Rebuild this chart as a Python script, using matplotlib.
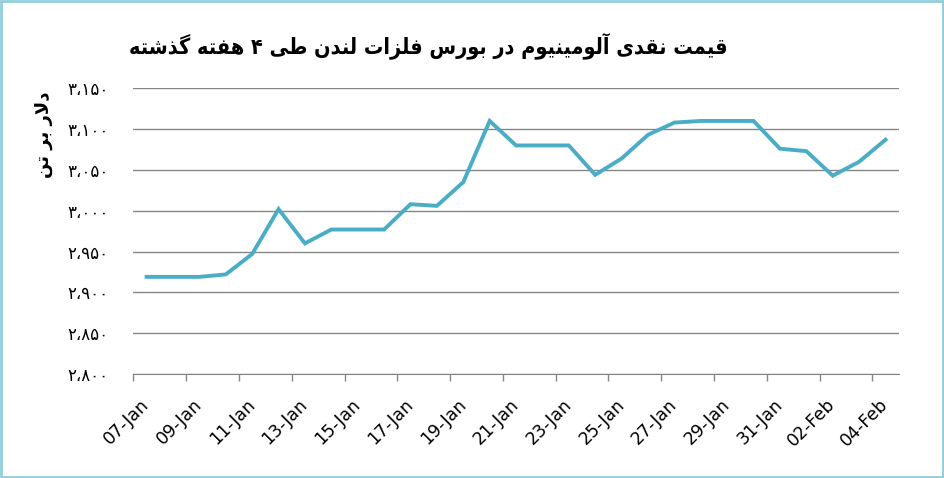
import matplotlib
matplotlib.use("Agg")
import matplotlib.pyplot as plt
from matplotlib.patches import Rectangle
from matplotlib.ticker import FixedLocator

# ---- data ----
dates = [f"{d:02d}-Jan" for d in range(7, 32)] + [f"{d:02d}-Feb" for d in range(1, 5)]
prices = [2919, 2919, 2919, 2922, 2947, 3002, 2960, 2977, 2977, 2977,
          3008, 3006, 3035, 3110, 3080, 3080, 3080, 3044, 3064, 3093,
          3108, 3110, 3110, 3110, 3076, 3073, 3043, 3060, 3087]
y_ticks = [2800, 2850, 2900, 2950, 3000, 3050, 3100, 3150]

title_fa = "قیمت نقدی آلومینیوم در بورس فلزات لندن طی ۴ هفته گذشته"
ylabel_fa = "دلار بر تن"

line_color = "#4BACC6"
grid_color = "#868686"
frame_color = "#92CDDC"

# ---- minimal arabic/persian shaping (matplotlib has no shaper) ----
# letter: (isolated, final, initial, medial)
FORMS = {
    "ا": ("\uFE8D", "\uFE8E", None, None),
    "آ": ("\uFE81", "\uFE82", None, None),
    "ب": ("\uFE8F", "\uFE90", "\uFE91", "\uFE92"),
    "ت": ("\uFE95", "\uFE96", "\uFE97", "\uFE98"),
    "د": ("\uFEA9", "\uFEAA", None, None),
    "ذ": ("\uFEAB", "\uFEAC", None, None),
    "ر": ("\uFEAD", "\uFEAE", None, None),
    "ز": ("\uFEAF", "\uFEB0", None, None),
    "س": ("\uFEB1", "\uFEB2", "\uFEB3", "\uFEB4"),
    "ش": ("\uFEB5", "\uFEB6", "\uFEB7", "\uFEB8"),
    "ط": ("\uFEC1", "\uFEC2", "\uFEC3", "\uFEC4"),
    "ف": ("\uFED1", "\uFED2", "\uFED3", "\uFED4"),
    "ق": ("\uFED5", "\uFED6", "\uFED7", "\uFED8"),
    "ل": ("\uFEDD", "\uFEDE", "\uFEDF", "\uFEE0"),
    "م": ("\uFEE1", "\uFEE2", "\uFEE3", "\uFEE4"),
    "ن": ("\uFEE5", "\uFEE6", "\uFEE7", "\uFEE8"),
    "ه": ("\uFEE9", "\uFEEA", "\uFEEB", "\uFEEC"),
    "و": ("\uFEED", "\uFEEE", None, None),
    "ی": ("\uFBFC", "\uFBFD", "\uFBFE", "\uFBFF"),
    "گ": ("\uFB92", "\uFB93", "\uFB94", "\uFB95"),
}
LAM_ALEF = {"ا": ("\uFEFB", "\uFEFC"), "آ": ("\uFEF5", "\uFEF6")}


def shape(text):
    out = []
    i = 0
    n = len(text)
    while i < n:
        c = text[i]
        if c not in FORMS:
            out.append(c)
            i += 1
            continue
        prev = text[i - 1] if i > 0 else ""
        joined = prev in FORMS and FORMS[prev][2] is not None
        if c == "ل" and i + 1 < n and text[i + 1] in LAM_ALEF:
            out.append(LAM_ALEF[text[i + 1]][1 if joined else 0])
            i += 2
            continue
        nxt = text[i + 1] if i + 1 < n else ""
        joins_next = FORMS[c][2] is not None and nxt in FORMS
        iso, fin, ini, med = FORMS[c]
        if joined and joins_next:
            out.append(med)
        elif joined:
            out.append(fin)
        elif joins_next:
            out.append(ini)
        else:
            out.append(iso)
        i += 1
    return "".join(reversed(out))


def fa_num(v):
    s = f"{v:,}"
    return s.translate(str.maketrans("0123456789,", "۰۱۲۳۴۵۶۷۸۹،"))


# ---- figure ----
fig = plt.figure(figsize=(9.45, 4.78), dpi=100)
ax = fig.add_axes([133.4 / 945, 1 - 374 / 478, (898.7 - 133.4) / 945, (374 - 88.3) / 478])

x = list(range(len(dates)))
ax.plot(x, prices, color=line_color, lw=2.8, solid_joinstyle="miter", zorder=3)

ax.set_xlim(-0.5, len(dates) - 0.5)
ax.set_ylim(y_ticks[0], y_ticks[-1])

ax.set_yticks(y_ticks)
ax.set_yticklabels([fa_num(v) for v in y_ticks], fontsize=12)
ax.tick_params(axis="y", length=0, pad=18)
ax.yaxis.grid(True, color=grid_color, lw=1)
ax.set_axisbelow(True)

ax.set_xticks(x[::2])
ax.set_xticklabels(dates[::2], rotation=45, ha="right", va="center",
                   rotation_mode="anchor", fontsize=12.5)
ax.xaxis.set_minor_locator(FixedLocator([i - 0.5 for i in range(0, len(dates), 2)]))
ax.tick_params(axis="x", which="major", length=0, pad=20)
ax.tick_params(axis="x", which="minor", length=5, width=1, color=grid_color)

for side in ["left", "right", "top"]:
    ax.spines[side].set_visible(False)
ax.spines["bottom"].set_color(grid_color)

fig.text(44 / 945, 1 - 135 / 478, shape(ylabel_fa), rotation=90, ha="center",
         va="center", fontsize=13, fontweight="bold")
fig.text(428 / 945, 1 - 46 / 478, shape(title_fa), ha="center", va="center",
         fontsize=15.5, fontweight="bold", fontstretch="condensed")

fig.add_artist(Rectangle((0.001, 0.003), 0.997, 0.995, transform=fig.transFigure,
                         fill=False, edgecolor=frame_color, lw=2))

fig.savefig("out.png", dpi=100, facecolor="white")
